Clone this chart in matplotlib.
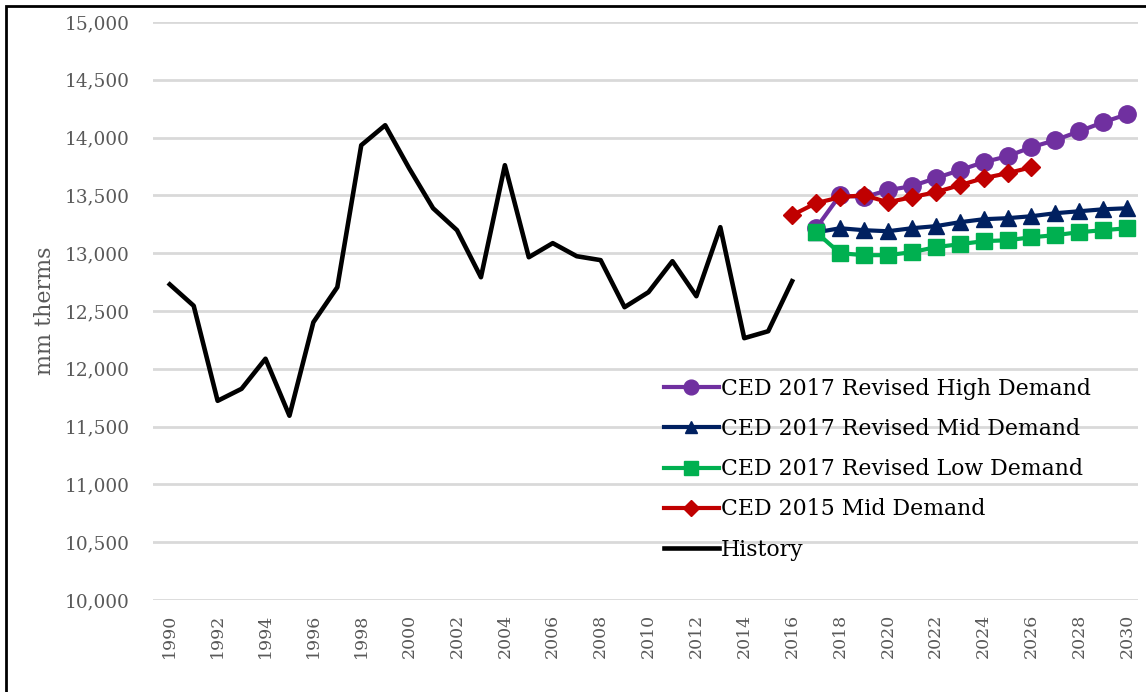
import matplotlib.pyplot as plt
from matplotlib.patches import Rectangle
from matplotlib.ticker import FuncFormatter

# --- data (mm therms) ---
hist_years = list(range(1990, 2017))
history = [12730, 12545, 11723, 11827, 12087, 11594, 12403, 12706, 13934, 14107,
           13735, 13389, 13199, 12792, 13761, 12965, 13087, 12974, 12940, 12533,
           12663, 12931, 12628, 13225, 12265, 12325, 12758]

rev_years = list(range(2017, 2031))
high_2017 = [13216, 13502, 13484, 13545, 13580, 13649, 13718, 13787, 13839, 13917,
             13978, 14055, 14133, 14202]
mid_2017 = [13180, 13216, 13199, 13190, 13216, 13234, 13268, 13294, 13303, 13320,
            13346, 13363, 13380, 13389]
low_2017 = [13182, 13000, 12983, 12983, 13009, 13052, 13078, 13104, 13112, 13138,
            13156, 13182, 13199, 13216]

ced15_years = list(range(2016, 2027))
mid_2015 = [13329, 13433, 13484, 13502, 13441, 13484, 13528, 13588, 13649, 13692,
            13744]

year_ticks = list(range(1990, 2031, 2))

plt.rcParams.update({
    "font.family": ["DejaVu Serif"],
    "axes.edgecolor": "#FFFFFF",
})

fig = plt.figure(figsize=(11.46, 6.92), dpi=100)
ax = fig.add_axes([153 / 1146, 1 - 600 / 692, (1138 - 153) / 1146, (600 - 22) / 692])

ax.plot(rev_years, high_2017, color="#7030A0", lw=3, marker="o", ms=12.5,
        label="CED 2017 Revised High Demand", zorder=3)
ax.plot(rev_years, mid_2017, color="#002060", lw=3, marker="^", ms=11,
        label="CED 2017 Revised Mid Demand", zorder=4)
ax.plot(rev_years, low_2017, color="#00B050", lw=3, marker="s", ms=11.5,
        label="CED 2017 Revised Low Demand", zorder=5)
ax.plot(ced15_years, mid_2015, color="#C00000", lw=3, marker="D", ms=9,
        label="CED 2015 Mid Demand", zorder=6)
ax.plot(hist_years, history, color="black", lw=3.3, label="History", zorder=7)

ax.set_xlim(1989.3, 2030.45)
ax.set_ylim(10000, 15000)
ax.set_yticks(range(10000, 15001, 500))
ax.yaxis.set_major_formatter(FuncFormatter(lambda v, p: f"{int(v):,}"))
ax.set_xticks(year_ticks)
ax.set_xticklabels([str(y) for y in year_ticks], rotation=90)
ax.tick_params(axis="both", length=0, labelcolor="#595959")
ax.tick_params(axis="y", labelsize=13.3, pad=17)
ax.tick_params(axis="x", labelsize=12.5, pad=10)
ax.grid(axis="y", color="#D9D9D9", lw=2)
ax.set_axisbelow(True)
for s in ax.spines.values():
    s.set_visible(False)

ax.set_ylabel("mm therms", fontsize=16, color="#595959", labelpad=6)

ax.legend(loc="upper left", bbox_to_anchor=(655 / 1146, 1 - 369 / 692),
          bbox_transform=fig.transFigure, frameon=False, fontsize=15.8,
          handlelength=2.5, handletextpad=0.1, labelspacing=0.83,
          markerscale=0.85, borderaxespad=0)

# outer frame of the pasted chart
fig.patches.append(Rectangle((6 / 1146, -0.2), 1.5, 1.2 - 6 / 692,
                             transform=fig.transFigure, fill=False,
                             edgecolor="black", lw=2))

fig.savefig("out.png", dpi=100)
